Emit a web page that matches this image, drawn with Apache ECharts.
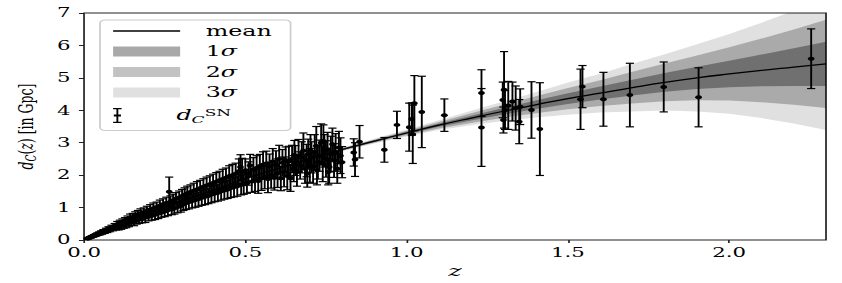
<!DOCTYPE html>
<html>
<head>
<meta charset="utf-8">
<script src="https://cdn.jsdelivr.net/npm/echarts@6/dist/echarts.min.js"></script>
<style>
  html, body { margin: 0; padding: 0; background: #fff; overflow: hidden; }
  /* the reference figure is squeezed horizontally, so draw narrow and stretch */
  #main { width: 495px; height: 283px; transform: scaleX(1.70101); transform-origin: 0 0; }
</style>
</head>
<body>
<div id="main"></div>
<script>
// reconstructed mean d_C(z) and its 1-sigma width
var meanZ = [0, 0.1, 0.2, 0.3, 0.4, 0.5, 0.6, 0.7, 0.8, 0.9, 1.0, 1.1, 1.2, 1.3, 1.4, 1.5, 1.6, 1.7, 1.8, 1.9, 2.0, 2.1, 2.2, 2.3];
var meanD = [0, 0.42, 0.82, 1.19, 1.54, 1.89, 2.20, 2.50, 2.79, 3.05, 3.30, 3.54, 3.76, 3.97, 4.17, 4.36, 4.53, 4.70, 4.86, 5.00, 5.12, 5.23, 5.33, 5.43];
var sigmaD = [0, 0.002, 0.003, 0.004, 0.006, 0.008, 0.011, 0.015, 0.019, 0.025, 0.035, 0.05, 0.075, 0.10, 0.13, 0.165, 0.20, 0.245, 0.29, 0.345, 0.41, 0.49, 0.58, 0.68];

// supernova points: [z, d_C, error]
var snLow = [
  [0.011,0.050,0.009],[0.013,0.049,0.010],[0.015,0.068,0.011],[0.017,0.066,0.012],[0.019,0.086,0.013],
  [0.021,0.083,0.015],[0.023,0.104,0.016],[0.025,0.098,0.017],[0.027,0.122,0.019],[0.029,0.114,0.020],
  [0.031,0.140,0.022],[0.033,0.131,0.023],[0.036,0.163,0.026],[0.038,0.150,0.027],[0.041,0.188,0.030],
  [0.044,0.175,0.032],[0.047,0.215,0.035],[0.050,0.196,0.037],[0.053,0.243,0.040],[0.056,0.220,0.042],
  [0.060,0.276,0.045],[0.064,0.250,0.048],[0.068,0.313,0.051],[0.072,0.283,0.054],[0.076,0.352,0.057],
  [0.080,0.315,0.060],[0.085,0.392,0.064],[0.090,0.352,0.068],[0.095,0.436,0.072],[0.099,0.385,0.076],
  [0.103,0.49,0.08],[0.107,0.40,0.09],[0.111,0.53,0.08],[0.115,0.43,0.10],[0.119,0.56,0.09],
  [0.123,0.46,0.10],[0.127,0.60,0.09],[0.131,0.49,0.11],[0.135,0.64,0.10],[0.139,0.52,0.11],
  [0.143,0.68,0.12],[0.147,0.55,0.10],[0.151,0.71,0.11],[0.155,0.57,0.13],[0.159,0.75,0.12],
  [0.163,0.60,0.11],[0.167,0.78,0.13],[0.171,0.63,0.12],[0.175,0.82,0.14],[0.180,0.65,0.12],
  [0.185,0.86,0.13],[0.190,0.69,0.15],[0.195,0.90,0.14],[0.200,0.72,0.13],[0.205,0.94,0.15],
  [0.210,0.75,0.14],[0.215,0.98,0.16],[0.220,0.78,0.15],[0.225,1.02,0.15],[0.230,0.82,0.16],
  [0.235,1.06,0.17],[0.240,0.85,0.15],[0.245,1.10,0.17],[0.250,0.88,0.16],[0.255,1.14,0.18],
  [0.260,0.92,0.17],[0.264,1.49,0.45],[0.268,1.18,0.18],[0.272,0.95,0.17],[0.276,1.22,0.19],
  [0.280,0.98,0.18],[0.285,1.27,0.19],[0.290,1.02,0.18],[0.295,1.31,0.20],[0.300,1.05,0.19]
];
var snMid = [
  [0.304,1.36,0.20],[0.308,1.10,0.19],[0.312,1.40,0.21],[0.316,1.14,0.20],[0.320,1.44,0.22],
  [0.325,1.17,0.21],[0.330,1.48,0.22],[0.335,1.20,0.21],[0.340,1.52,0.23],[0.345,1.23,0.22],
  [0.350,1.56,0.24],[0.355,1.26,0.22],[0.360,1.60,0.24],[0.365,1.30,0.23],[0.370,1.64,0.25],
  [0.375,1.33,0.24],[0.380,1.68,0.26],[0.385,1.36,0.24],[0.390,1.72,0.26],[0.395,1.40,0.25],
  [0.400,1.76,0.27],[0.405,1.43,0.25],[0.410,1.80,0.28],[0.415,1.46,0.26],[0.420,1.84,0.28],
  [0.425,1.50,0.27],[0.430,1.88,0.30],[0.435,1.53,0.27],[0.440,1.92,0.30],[0.445,1.56,0.28],
  [0.450,1.97,0.32],[0.455,1.60,0.29],[0.460,2.00,0.33],[0.465,1.63,0.30],[0.470,2.04,0.33],
  [0.475,1.66,0.31],[0.480,2.12,0.38],[0.485,2.25,0.38],[0.487,1.70,0.31],[0.490,2.10,0.42],
  [0.495,1.74,0.33],[0.500,2.15,0.35],[0.505,1.76,0.32],[0.510,2.05,0.36],[0.515,2.30,0.34],
  [0.520,1.80,0.33],[0.525,2.18,0.36],[0.530,1.84,0.34],[0.535,2.22,0.38],[0.540,1.82,0.38],
  [0.545,2.28,0.36],[0.550,1.90,0.37],[0.555,2.32,0.40],[0.560,1.93,0.35],[0.565,2.36,0.38],
  [0.570,1.88,0.42],[0.575,2.28,0.37],[0.580,2.00,0.40],[0.585,2.42,0.40],[0.590,1.92,0.38],
  [0.595,2.32,0.43],[0.600,2.06,0.44],[0.605,2.50,0.42],[0.610,1.90,0.38],[0.615,2.38,0.41],
  [0.620,2.10,0.46],[0.625,2.47,0.40],[0.630,1.98,0.43],[0.635,2.42,0.47],[0.640,1.90,0.40],
  [0.645,2.50,0.42],[0.650,2.20,0.40],[0.652,2.62,0.45],[0.655,2.45,0.46],[0.660,2.10,0.44],
  [0.665,2.60,0.50],[0.670,2.30,0.42],[0.675,2.55,0.48],[0.680,2.75,0.55],[0.685,2.20,0.45],
  [0.690,2.45,0.50],[0.692,2.05,0.42],[0.695,2.65,0.46],[0.700,2.30,0.52],[0.702,2.75,0.50],
  [0.705,2.55,0.48],[0.710,2.25,0.50],[0.715,2.70,0.55],[0.720,2.90,0.60],[0.722,2.15,0.45],
  [0.725,2.40,0.52],[0.730,2.60,0.48],[0.735,3.00,0.58],[0.740,2.35,0.55],[0.742,3.05,0.50],
  [0.745,2.75,0.50],[0.750,2.50,0.56],[0.755,2.80,0.52],[0.757,2.10,0.40],[0.760,2.25,0.50],
  [0.765,2.65,0.55],[0.770,2.95,0.50],[0.775,2.45,0.52],[0.780,2.70,0.58],[0.785,2.20,0.45],
  [0.790,2.85,0.50],[0.795,2.60,0.55],[0.800,2.40,0.48]
];
var snHigh = [
  [0.836,2.70,0.42],[0.840,2.48,0.52],[0.854,3.03,0.50],[0.931,2.78,0.38],[0.970,3.55,0.42],
  [1.008,3.48,0.74],[1.016,3.73,0.50],[1.019,3.26,0.90],[1.024,4.22,0.85],[1.047,3.95,1.10],
  [1.117,3.85,0.50],[1.232,4.53,0.72],[1.232,3.47,1.20],[1.298,4.32,0.55],[1.302,4.63,1.18],
  [1.305,4.01,0.60],[1.300,3.70,0.40],[1.315,4.15,0.74],[1.328,4.27,0.60],[1.338,4.07,0.68],
  [1.349,3.65,0.68],[1.352,4.11,0.55],[1.387,4.01,0.87],[1.413,3.42,1.43],[1.539,4.34,0.93],
  [1.545,4.73,0.65],[1.610,4.34,0.83],[1.692,4.47,0.98],[1.797,4.72,0.77],[1.905,4.40,0.91],
  [2.254,5.59,0.92]
];

var xTicks = [0, 0.5, 1.0, 1.5, 2.0];
var yTicks = [0, 1, 2, 3, 4, 5, 6, 7];

var FONT = 'DejaVu Serif';
var myChart = echarts.init(document.getElementById('main'), null, { renderer: 'svg' });

function bandItem(k) {
    return function (params, api) {
        var upper = meanZ.map(function (z, i) { return api.coord([z, meanD[i] + k * sigmaD[i]]); });
        var lower = meanZ.map(function (z, i) { return api.coord([z, meanD[i] - k * sigmaD[i]]); }).reverse();
        var cs = params.coordSys;
        return {
            type: 'polygon',
            shape: { points: upper.concat(lower) },
            style: { fill: api.visual('color') },
            clipPath: { type: 'rect', shape: { x: cs.x, y: cs.y, width: cs.width, height: cs.height } }
        };
    };
}

function errItem(params, api) {
    var z = api.value(0), d = api.value(1), e = api.value(2);
    var top = api.coord([z, d + e]);
    var bot = api.coord([z, d - e]);
    var mid = api.coord([z, d]);
    var cap = 2.4;
    return {
        type: 'group',
        children: [
            { type: 'line', shape: { x1: top[0], y1: top[1], x2: bot[0], y2: bot[1] }, style: { stroke: '#000', lineWidth: 1.1 } },
            { type: 'line', shape: { x1: top[0] - cap, y1: top[1], x2: top[0] + cap, y2: top[1] }, style: { stroke: '#000', lineWidth: 1.2 } },
            { type: 'line', shape: { x1: bot[0] - cap, y1: bot[1], x2: bot[0] + cap, y2: bot[1] }, style: { stroke: '#000', lineWidth: 1.2 } },
            { type: 'circle', shape: { cx: mid[0], cy: mid[1], r: 2 }, style: { fill: '#000' } }
        ]
    };
}

var rich = {
    t: { fontFamily: FONT, fontSize: 14, color: '#000', lineHeight: 14 },
    i: { fontFamily: FONT, fontSize: 14, fontStyle: 'italic', color: '#000', lineHeight: 14 },
    sub: { fontFamily: FONT, fontSize: 10, fontStyle: 'italic', color: '#000', padding: [7, 0, 0, 0] },
    sup: { fontFamily: FONT, fontSize: 10, color: '#000', padding: [0, 0, 7, 0] }
};

function legendText(name) {
    if (name === 'mean') return '{t|mean}';
    if (name === 'dSN') return '{i|d}{sub|C}{sup|SN}';
    return '{t|' + name.charAt(0) + '}{i|σ}';
}

var lineIcon = 'path://M0,0H40V1.4H0Z';
var errIcon = 'path://M0,0H5V1.2H0Z M0,13.8H5V15H0Z M1.95,0H3.05V15H1.95Z M0.4,6.5H4.6V8.5H0.4Z';

var option = {
    animation: false,
    grid: {
        left: 49.4, right: 9.4, top: 13, bottom: 43,
        show: true, borderColor: '#222', borderWidth: 1, backgroundColor: 'transparent',
        containLabel: false, outerBoundsMode: 'none'
    },
    legend: [{
        orient: 'vertical',
        left: 58.8, top: 20,
        padding: [4, 11, 31, 7.7],
        itemWidth: 39.4, itemHeight: 10, itemGap: 6.5,
        backgroundColor: 'rgba(255,255,255,0.8)',
        borderColor: '#cccccc', borderWidth: 1, borderRadius: 3,
        selectedMode: false,
        data: [
            { name: 'mean', icon: lineIcon, itemStyle: { color: '#000' } },
            { name: '1σ', icon: 'rect' },
            { name: '2σ', icon: 'rect' },
            { name: '3σ', icon: 'rect' }
        ],
        formatter: legendText,
        textStyle: { padding: [0, 0, 0, 10], rich: rich }
    }, {
        orient: 'vertical',
        left: 66.5, top: 107,
        padding: 0,
        itemWidth: 39.4, itemHeight: 15,
        selectedMode: false,
        data: [{ name: 'dSN', icon: errIcon, itemStyle: { color: '#000' } }],
        formatter: legendText,
        textStyle: { padding: [0, 0, 0, 10], rich: rich }
    }],
    xAxis: {
        type: 'value', min: 0, max: 2.3, interval: 0.5,
        name: 'z', nameLocation: 'middle', nameGap: 17,
        nameTextStyle: { fontFamily: FONT, fontSize: 15, fontStyle: 'italic', color: '#000' },
        axisLine: { show: false },
        axisTick: { show: true, inside: false, length: 3, lineStyle: { color: '#222' }, customValues: xTicks },
        axisLabel: {
            fontFamily: FONT, fontSize: 12.5, color: '#000', margin: 6,
            customValues: xTicks,
            formatter: function (v) { return v.toFixed(1); }
        },
        splitLine: { show: false }
    },
    yAxis: {
        type: 'value', min: 0, max: 7, interval: 1,
        name: '{i|d}{sub|C}{t|(}{i|z}{t|) [in Gpc]}', nameLocation: 'middle', nameGap: 21,
        nameTextStyle: {
            rich: {
                t: { fontFamily: FONT, fontSize: 12.5, color: '#000' },
                i: { fontFamily: FONT, fontSize: 12.5, fontStyle: 'italic', color: '#000' },
                sub: { fontFamily: FONT, fontSize: 9, fontStyle: 'italic', color: '#000', padding: [6, 0, 0, 0] }
            }
        },
        axisLine: { show: false },
        axisTick: { show: true, inside: false, length: 3, lineStyle: { color: '#222' }, customValues: yTicks },
        axisLabel: { fontFamily: FONT, fontSize: 12.5, color: '#000', margin: 8, customValues: yTicks },
        splitLine: { show: false }
    },
    series: [
        { name: '3σ', type: 'custom', z: 1, data: [[0, 0]], itemStyle: { color: 'rgba(0,0,0,0.12)' }, renderItem: bandItem(3), silent: true },
        { name: '2σ', type: 'custom', z: 1, data: [[0, 0]], itemStyle: { color: 'rgba(0,0,0,0.24)' }, renderItem: bandItem(2), silent: true },
        { name: '1σ', type: 'custom', z: 1, data: [[0, 0]], itemStyle: { color: 'rgba(0,0,0,0.34)' }, renderItem: bandItem(1), silent: true },
        {
            name: 'dSN', type: 'custom', z: 2, silent: true,
            itemStyle: { color: '#000' },
            data: snLow.concat(snMid, snHigh),
            encode: { x: 0, y: 1 },
            renderItem: errItem
        },
        {
            name: 'mean', type: 'line', z: 3, silent: true,
            data: meanZ.map(function (z, i) { return [z, meanD[i]]; }),
            smooth: true, symbol: 'none', showSymbol: false,
            itemStyle: { color: '#000' },
            lineStyle: { color: '#000', width: 1.3 }
        }
    ]
};

myChart.setOption(option);
</script>
</body>
</html>
